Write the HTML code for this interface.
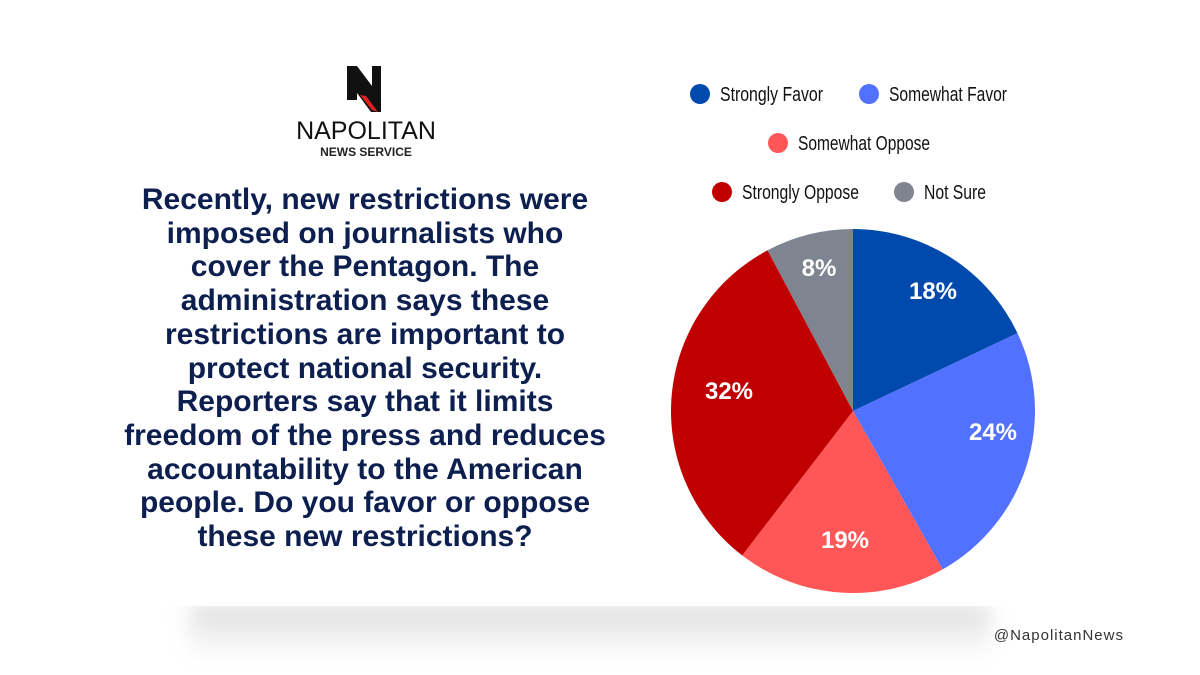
<!DOCTYPE html>
<html><head><meta charset="utf-8"><style>
body{margin:0;width:1200px;height:675px;background:#fff;position:relative;overflow:hidden;font-family:"Liberation Sans",sans-serif}
.shadow{position:absolute;left:190px;top:604px;width:800px;height:55px;background:linear-gradient(#dcdcdc,#fff);filter:blur(10px)}
.card{position:absolute;left:0;top:0;width:1200px;height:606px;background:#fff}
.q{position:absolute;left:65px;width:600px;top:183px;text-align:center;font-weight:bold;font-size:30px;line-height:33.7px;color:#0d1f4f;white-space:nowrap}
</style></head><body>
<div class="shadow"></div>
<div class="card"></div>
<svg width="1200" height="675" style="position:absolute;left:0;top:0">
<polygon points="347,66 357,66 372,86 372,66 381,66 381,112 371,112 357,93 357,100 347,100" fill="#111"/>
<polygon points="360,95 372,110 378,112 366,96" fill="#e02020"/>
<text x="366" y="139" text-anchor="middle" font-size="25" fill="#111" font-family="Liberation Sans">NAPOLITAN</text>
<text x="366" y="156" text-anchor="middle" font-size="12" font-weight="bold" fill="#222" font-family="Liberation Sans">NEWS SERVICE</text>
<path d="M853,411 L853,229 A182,182 0 0 1 1017.5,333.2 Z" fill="#004aad"/>
<path d="M853,411 L1017.5,333.2 A182,182 0 0 1 942.6,569.4 Z" fill="#5271ff"/>
<path d="M853,411 L942.6,569.4 A182,182 0 0 1 742.2,555.4 Z" fill="#ff5757"/>
<path d="M853,411 L742.2,555.4 A182,182 0 0 1 767.6,250.3 Z" fill="#c00000"/>
<path d="M853,411 L767.6,250.3 A182,182 0 0 1 853,229 Z" fill="#7f8590"/>
<g fill="#fff" font-weight="bold" font-size="24" text-anchor="middle" font-family="Liberation Sans">
<text x="933" y="299">18%</text><text x="993" y="440">24%</text><text x="845" y="548">19%</text><text x="729" y="399">32%</text><text x="819" y="276">8%</text></g>
<g font-size="20" fill="#111" font-family="Liberation Sans">
<circle cx="700" cy="94" r="10" fill="#004aad"/><text x="720" y="101" textLength="103" lengthAdjust="spacingAndGlyphs">Strongly Favor</text>
<circle cx="869" cy="94" r="10" fill="#5271ff"/><text x="889" y="101" textLength="118" lengthAdjust="spacingAndGlyphs">Somewhat Favor</text>
<circle cx="778" cy="143" r="10" fill="#ff5757"/><text x="798" y="150" textLength="132" lengthAdjust="spacingAndGlyphs">Somewhat Oppose</text>
<circle cx="722" cy="192" r="10" fill="#c00000"/><text x="742" y="199" textLength="117" lengthAdjust="spacingAndGlyphs">Strongly Oppose</text>
<circle cx="904" cy="192" r="10" fill="#7f8590"/><text x="924" y="199" textLength="62" lengthAdjust="spacingAndGlyphs">Not Sure</text>
</g>
<text x="1124" y="640" text-anchor="end" font-size="15" fill="#333" letter-spacing="1" font-family="Liberation Sans">@NapolitanNews</text>
</svg>
<div class="q">Recently, new restrictions were<br>imposed on journalists who<br>cover the Pentagon. The<br>administration says these<br>restrictions are important to<br>protect national security.<br>Reporters say that it limits<br>freedom of the press and reduces<br>accountability to the American<br>people. Do you favor or oppose<br>these new restrictions?</div>
</body></html>
